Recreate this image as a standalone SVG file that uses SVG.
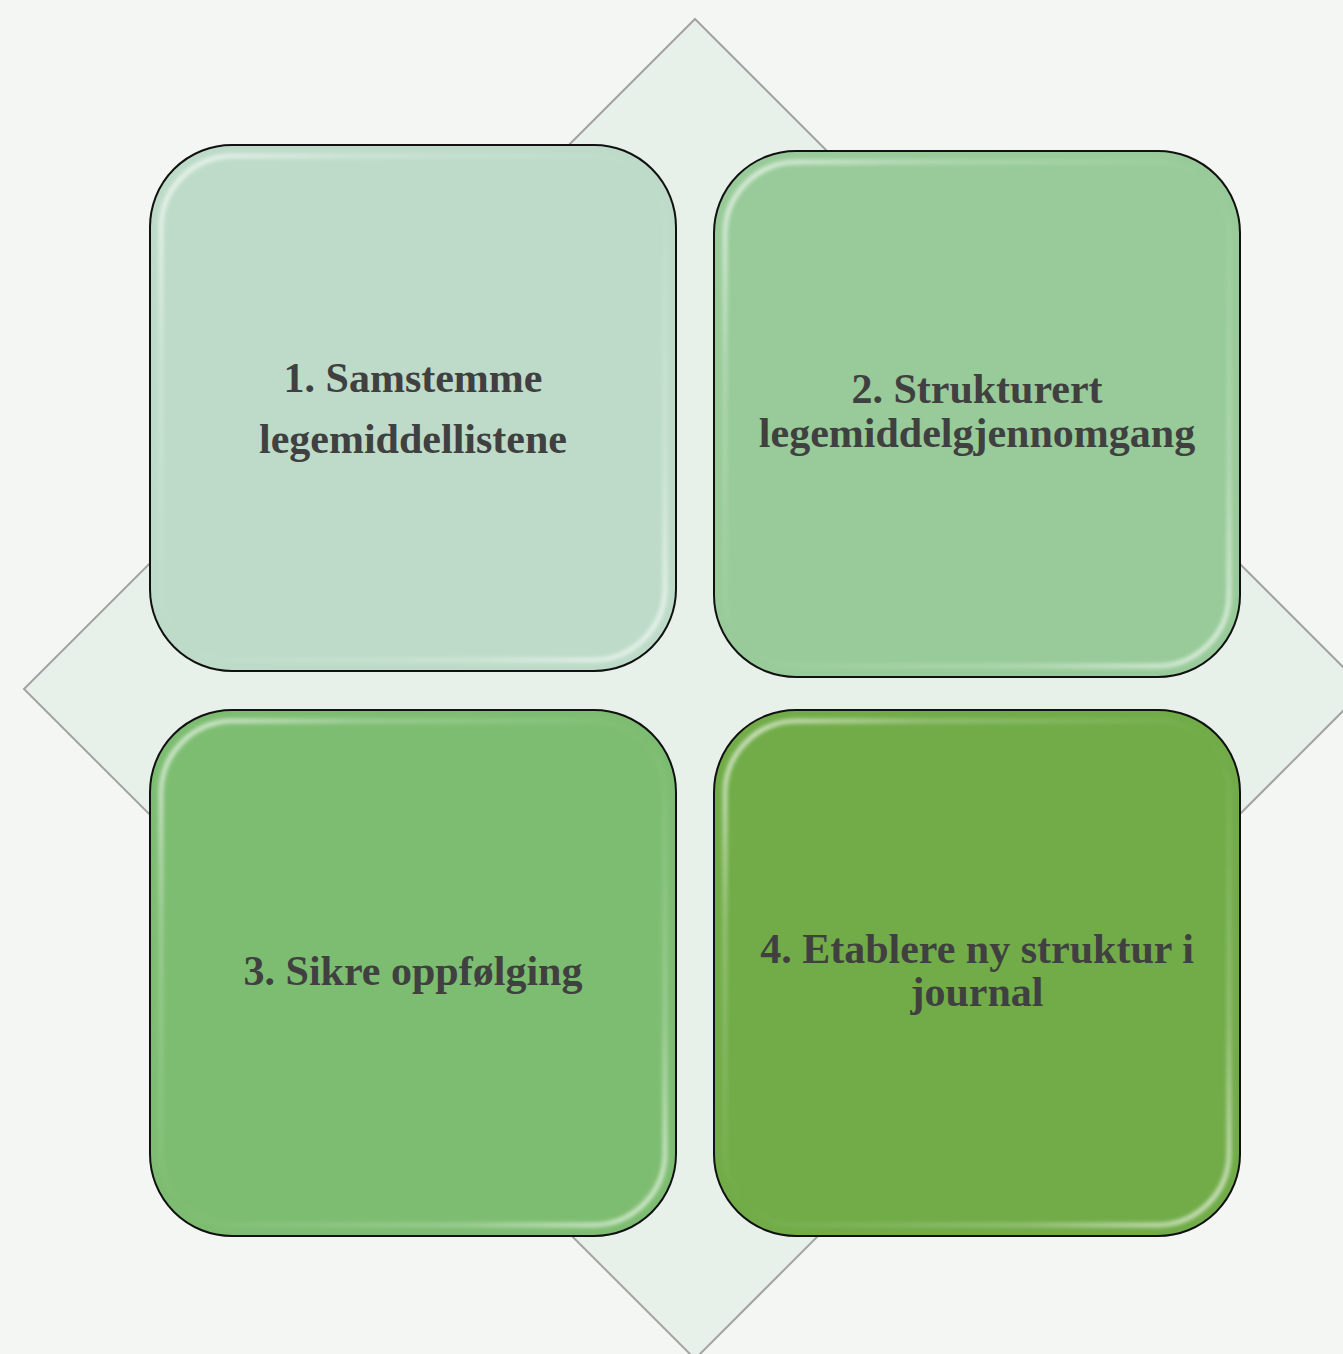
<svg xmlns="http://www.w3.org/2000/svg" width="1343" height="1354" viewBox="0 0 1343 1354">
<defs>
<style>
.box{stroke:#111;stroke-width:2}
.gloss{fill:none;stroke-width:4}
.lbl{font-family:"Liberation Serif","Times New Roman",serif;font-weight:bold;font-size:42px;fill:#404040;text-anchor:middle}
</style>
<linearGradient id="gl" x1="0" y1="0" x2="1" y2="1">
<stop offset="0" stop-color="#fff" stop-opacity="0.9"/>
<stop offset="0.2" stop-color="#fff" stop-opacity="0.3"/>
<stop offset="0.5" stop-color="#fff" stop-opacity="0"/>
<stop offset="0.8" stop-color="#fff" stop-opacity="0.3"/>
<stop offset="1" stop-color="#fff" stop-opacity="0.9"/>
</linearGradient>
<filter id="inner" x="-5%" y="-5%" width="110%" height="110%">
<feGaussianBlur stdDeviation="2"/>
</filter>
</defs>
<rect width="1343" height="1354" fill="#F4F6F3"/>
<g id="diamond">
<polygon points="695,19 1365,689 695,1359 24,689" fill="#E8F0EA" stroke="#A3A3A3" stroke-width="2"/>
</g>
<g id="connectors"></g>
<g id="node1">
<rect class="box" x="150" y="145" width="526" height="526" rx="82" fill="#BDDBC8"/>
<rect class="gloss" x="161" y="156" width="504" height="504" rx="72" stroke="url(#gl)" filter="url(#inner)"/>
<text class="lbl" x="413" y="392">1. Samstemme</text>
<text class="lbl" x="413" y="453">legemiddellistene</text>
</g>
<g id="node2">
<rect class="box" x="714" y="151" width="526" height="526" rx="82" fill="#98CB99"/>
<rect class="gloss" x="725" y="162" width="504" height="504" rx="72" stroke="url(#gl)" filter="url(#inner)"/>
<text class="lbl" x="977" y="403">2. Strukturert</text>
<text class="lbl" x="977" y="447">legemiddelgjennomgang</text>
</g>
<g id="node3">
<rect class="box" x="150" y="710" width="526" height="526" rx="82" fill="#7DBD71"/>
<rect class="gloss" x="161" y="721" width="504" height="504" rx="72" stroke="url(#gl)" filter="url(#inner)"/>
<text class="lbl" x="413" y="985">3. Sikre oppfølging</text>
</g>
<g id="node4">
<rect class="box" x="714" y="710" width="526" height="526" rx="82" fill="#71AC48"/>
<rect class="gloss" x="725" y="721" width="504" height="504" rx="72" stroke="url(#gl)" filter="url(#inner)"/>
<text class="lbl" x="977" y="963">4. Etablere ny struktur i</text>
<text class="lbl" x="977" y="1006">journal</text>
</g>
</svg>
